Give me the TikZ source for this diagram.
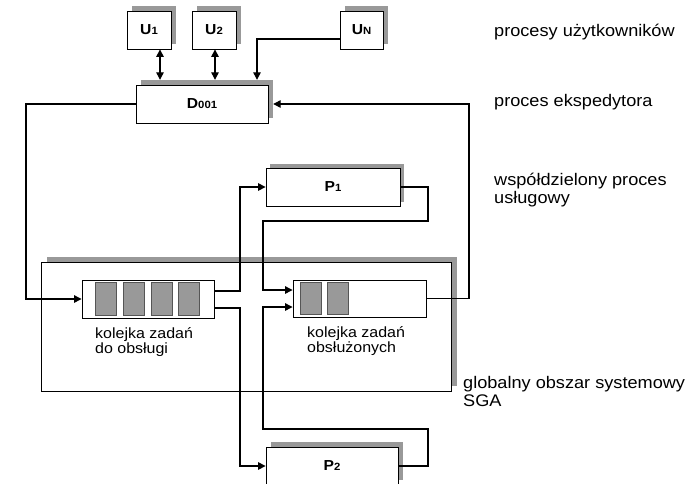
\documentclass[tikz,border=0pt]{standalone}
\usepackage{fontspec}
\setmainfont{Liberation Sans}[FakeStretch=1.08]
\usetikzlibrary{arrows.meta,calc}
\definecolor{shd}{HTML}{999999}
\definecolor{cellfill}{HTML}{999999}
\definecolor{cellline}{HTML}{555555}
\newcommand\smallsub[1]{{\fontsize{10.5}{10.5}\selectfont #1}}
\begin{document}
\begin{tikzpicture}[x=1pt,y=-1pt,
  box/.style={draw=black,line width=0.8pt,fill=white,minimum width=#1,minimum height=38pt,inner sep=0pt,font=\fontsize{14.5}{14.5}\selectfont\bfseries},
  shadowbox/.style={fill=shd,draw=none,minimum width=#1,minimum height=38pt,inner sep=0pt},
  queue/.style={draw=black,line width=0.9pt,fill=white,minimum width=#1,minimum height=38pt,inner sep=0pt},
  cell/.style={draw=cellline,line width=0.6pt,fill=cellfill},
  conn/.style={line width=1.2pt,-{Triangle[length=7.5pt,width=7.5pt]}},
  dconn/.style={line width=1.2pt,{Triangle[length=7.5pt,width=7.5pt]}-{Triangle[length=7.5pt,width=7.5pt]}},
  lbl/.style={inner sep=0pt,font=\fontsize{16.8}{17.5}\selectfont},
  qlbl/.style={inner sep=0pt,font=\fontsize{14.8}{15}\selectfont}
]
\clip (0,0) rectangle (691,483);
% global area SGA
\node[fill=shd,minimum width=410pt,minimum height=129pt,inner sep=0pt] (SGAs) at (252,321.5) {};
\node[draw=black,line width=0.8pt,fill=white,minimum width=410pt,minimum height=129pt,inner sep=0pt] (SGA) at (246,326.5) {};
% user processes
\node[shadowbox=44pt] (U1s) at (154,25) {};
\node[box=44pt] (U1) at (149,30) {U\smallsub{1}};
\node[shadowbox=44pt] (U2s) at (219,25) {};
\node[box=44pt] (U2) at (214,30) {U\smallsub{2}};
\node[shadowbox=43pt] (UNs) at (366.5,25) {};
\node[box=43pt] (UN) at (361.5,30) {U\smallsub{N}};
% dispatcher
\node[shadowbox=132pt] (Ds) at (207,99) {};
\node[box=132pt] (D) at (202,104) {D\smallsub{001}};
% service processes
\node[shadowbox=134pt] (P1s) at (337,183) {};
\node[box=134pt] (P1) at (333,187) {P\smallsub{1}};
\node[shadowbox=132pt] (P2s) at (337,461) {};
\node[box=132pt] (P2) at (332,466) {P\smallsub{2}};
% queues
\node[queue=132pt] (Q1) at (148,299) {};
\foreach \dx in {14,41.7,69.3,97}
  \draw[cell] ($(Q1.west)+(\dx,-16.5)$) rectangle ++(21,33);
\node[queue=133pt,minimum height=37pt] (Q2) at (359.5,298.5) {};
\foreach \dx in {8,35}
  \draw[cell] ($(Q2.west)+(\dx,-16)$) rectangle ++(21,32);
% helper coordinates
\coordinate (xU1) at (160,0);
\coordinate (xU2) at (215,0);
\coordinate (xUN) at (257,0);
\coordinate (xL) at (26,0);
\coordinate (xR) at (469,0);
\coordinate (xA) at (240,0);
\coordinate (xB) at (263,0);
\coordinate (p1c) at (428,221);
\coordinate (p2c) at (428,429);
% connectors
\draw[dconn] (U1.south -| xU1) -- (Ds.north -| xU1);
\draw[dconn] (U2.south -| xU2) -- (Ds.north -| xU2);
\draw[conn] ([yshift=-9pt]UN.west) -| (Ds.north -| xUN);
\draw[conn] (D.west) -| (xL |- Q1.west) -- (Q1.west);
\draw[conn] (Q2.east) -| (xR |- D.east) -- (Ds.east |- D.east);
\draw[conn] ([yshift=8pt]Q1.east) -| (xA |- P1.west) -- (P1.west);
\draw[conn] ([yshift=-9pt]Q1.east) -| (xA |- P2.west) -- (P2.west);
\draw[conn] (P1.east) -| (p1c) -| (xB |- {$(Q2.west)+(0,-8.5)$}) -- ($(Q2.west)+(0,-8.5)$);
\draw[conn] (P2.east) -| (p2c) -| (xB |- {$(Q2.west)+(0,8.5)$}) -- ($(Q2.west)+(0,8.5)$);
% labels
\node[qlbl,anchor=base west,align=left] (q1l) at (95,353) {kolejka zadań\\do obsługi};
\node[qlbl,anchor=base west,align=left] (q2l) at (307,352) {kolejka zadań\\obsłużonych};
\node[lbl,anchor=base west] (t1) at (494,36) {procesy użytkowników};
\node[lbl,anchor=base west] (t2) at (494,106) {proces ekspedytora};
\node[lbl,anchor=base west,align=left] (t3) at (494,203) {współdzielony proces\\usługowy};
\node[lbl,anchor=base west,align=left] (t4) at (463,406) {globalny obszar systemowy\\SGA};
\end{tikzpicture}
\end{document}
